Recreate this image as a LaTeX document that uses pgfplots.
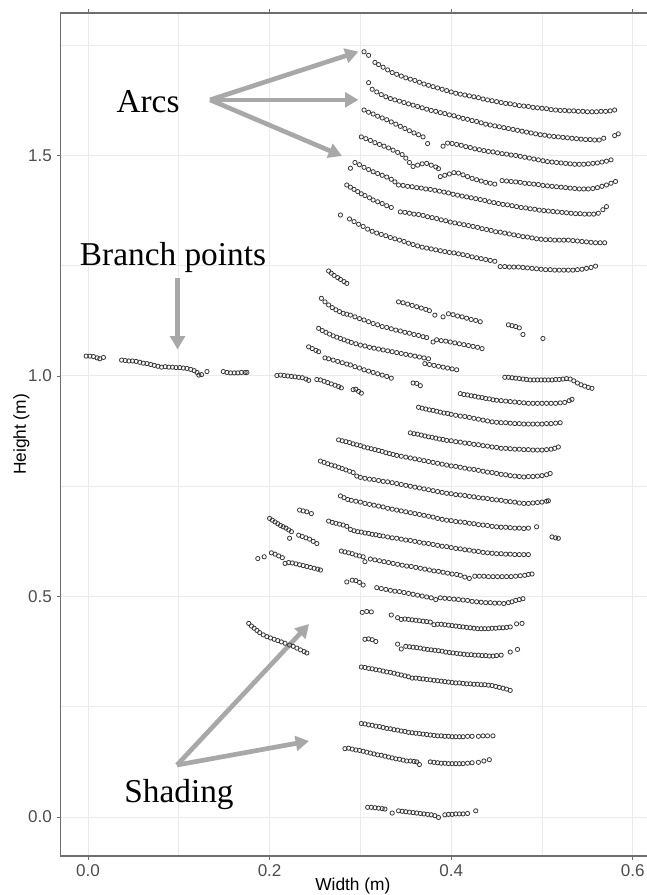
\documentclass[border=0pt]{standalone}
\usepackage{fontspec}
\setmainfont{Liberation Serif}
\setsansfont{Liberation Sans}
\usepackage{pgfplots}
\pgfplotsset{compat=1.18}
\usetikzlibrary{arrows.meta}

\definecolor{gridgray}{HTML}{EBEBEB}
\definecolor{ticktext}{HTML}{4D4D4D}
\definecolor{framegray}{HTML}{6E6E6E}
\definecolor{annot}{HTML}{A8A8A8}

\pgfplotsset{
  pts/.style={only marks, mark=o, mark size=1.6pt,
    mark options={draw=black!78, line width=0.6pt}},
}
\tikzset{
  callout/.style={annot, line width=3.5pt, -{Triangle[length=10pt, width=11pt]}},
}

\begin{document}
\begin{tikzpicture}
\useasboundingbox (-45.45pt,-29.25pt) rectangle (439.05pt,642pt);
\begin{axis}[
  at={(0,0)}, anchor=south west,
  scale only axis, width=441.4pt, height=632.25pt,
  xmin=-0.0302, xmax=0.618, ymin=-0.0884, ymax=1.823,
  clip=false,
  xtick={0,0.2,0.4,0.6}, xticklabels={0.0,0.2,0.4,0.6},
  ytick={0,0.5,1,1.5}, yticklabels={0.0,0.5,1.0,1.5},
  minor xtick={0.1,0.3,0.5}, minor ytick={0.25,0.75,1.25,1.75},
  grid=both,
  major grid style={gridgray, line width=0.75pt},
  minor grid style={gridgray, line width=0.5pt},
  minor tick length=0pt,
  tick align=outside, major tick length=3pt,
  tick style={framegray, line width=0.6pt},
  axis line style={framegray, line width=0.8pt},
  ticklabel style={font=\sffamily\fontsize{12.8}{15}\selectfont, text=ticktext},
  xlabel={Width (m)}, ylabel={Height (m)},
  label style={font=\sffamily\fontsize{13}{15}\selectfont, text=black},
  xlabel style={at={(axis description cs:0.4966,-0.0356)}, anchor=center},
  ylabel style={at={(axis description cs:-0.0664,0.5)}, anchor=center},
]

% upper arcs
\addplot[pts] coordinates {(0.304,1.735) (0.309,1.727) (0.316,1.711) (0.320,1.706) (0.325,1.700) (0.330,1.694) (0.335,1.688) (0.340,1.684) (0.345,1.680) (0.350,1.676) (0.355,1.673) (0.360,1.670) (0.365,1.666) (0.370,1.662) (0.375,1.659) (0.380,1.656) (0.385,1.653) (0.390,1.650) (0.395,1.647) (0.400,1.644) (0.405,1.641) (0.410,1.639) (0.415,1.637) (0.420,1.635) (0.425,1.633) (0.430,1.631) (0.435,1.628) (0.440,1.626) (0.445,1.624) (0.450,1.622) (0.455,1.620) (0.460,1.618) (0.465,1.617) (0.470,1.615) (0.475,1.613) (0.480,1.612) (0.485,1.611) (0.490,1.609) (0.495,1.608) (0.500,1.607) (0.505,1.606) (0.510,1.604) (0.515,1.603) (0.520,1.602) (0.525,1.602) (0.530,1.601) (0.535,1.601) (0.540,1.600) (0.545,1.600) (0.550,1.599) (0.555,1.599) (0.560,1.599) (0.565,1.600) (0.570,1.600) (0.575,1.601) (0.580,1.603)};
\addplot[pts] coordinates {(0.309,1.665) (0.313,1.650) (0.318,1.644) (0.323,1.638) (0.328,1.633) (0.333,1.629) (0.338,1.626) (0.343,1.623) (0.348,1.620) (0.353,1.617) (0.358,1.614) (0.363,1.611) (0.368,1.608) (0.373,1.605) (0.378,1.602) (0.383,1.600) (0.388,1.597) (0.393,1.595) (0.398,1.592) (0.403,1.590) (0.408,1.587) (0.413,1.584) (0.418,1.582) (0.423,1.579) (0.428,1.577) (0.433,1.574) (0.438,1.571) (0.443,1.569) (0.448,1.567) (0.453,1.565) (0.458,1.563) (0.463,1.561) (0.468,1.559) (0.473,1.557) (0.478,1.555) (0.483,1.553) (0.488,1.551) (0.493,1.549) (0.498,1.547) (0.503,1.546) (0.508,1.544) (0.513,1.543) (0.518,1.542) (0.523,1.541) (0.528,1.540) (0.533,1.539) (0.538,1.538) (0.543,1.537) (0.548,1.536) (0.553,1.536) (0.558,1.535) (0.563,1.535) (0.568,1.539) (0.580,1.545) (0.584,1.549)};
\addplot[pts] coordinates {(0.304,1.603) (0.309,1.598) (0.314,1.594) (0.319,1.589) (0.324,1.585) (0.329,1.581) (0.334,1.576) (0.339,1.571) (0.344,1.566) (0.349,1.561) (0.354,1.556) (0.359,1.551) (0.364,1.547) (0.369,1.542) (0.374,1.527)
 (0.391,1.521) (0.396,1.528) (0.401,1.527) (0.406,1.525) (0.411,1.523) (0.416,1.520) (0.421,1.518) (0.426,1.515) (0.431,1.513) (0.436,1.511) (0.441,1.509) (0.446,1.508) (0.451,1.506) (0.456,1.504) (0.461,1.503) (0.466,1.501) (0.471,1.500) (0.476,1.498) (0.481,1.496) (0.486,1.494) (0.491,1.492) (0.496,1.490) (0.501,1.488) (0.506,1.486) (0.511,1.485) (0.516,1.484) (0.521,1.483) (0.526,1.482) (0.531,1.481) (0.536,1.480) (0.541,1.480) (0.546,1.480) (0.551,1.481) (0.556,1.482) (0.561,1.483) (0.566,1.485) (0.571,1.487) (0.576,1.490)};
\addplot[pts] coordinates {(0.301,1.542) (0.306,1.538) (0.311,1.534) (0.316,1.529) (0.321,1.525) (0.326,1.521) (0.331,1.517) (0.336,1.512) (0.341,1.507) (0.346,1.502) (0.350,1.494) (0.354,1.484) (0.358,1.475) (0.363,1.478) (0.368,1.481) (0.373,1.482) (0.378,1.478) (0.383,1.474) (0.386,1.470)
 (0.388,1.452) (0.393,1.455) (0.398,1.458) (0.403,1.461) (0.408,1.460) (0.413,1.456) (0.418,1.452) (0.423,1.448) (0.428,1.445) (0.433,1.442) (0.438,1.439) (0.443,1.437) (0.448,1.435)
 (0.456,1.443) (0.461,1.442) (0.466,1.441) (0.471,1.440) (0.476,1.439) (0.481,1.437) (0.486,1.436) (0.491,1.435) (0.496,1.434) (0.501,1.432) (0.506,1.431) (0.511,1.430) (0.516,1.429) (0.521,1.428) (0.526,1.427) (0.531,1.426) (0.536,1.425) (0.541,1.424) (0.546,1.424) (0.551,1.424) (0.556,1.425) (0.561,1.427) (0.566,1.430) (0.571,1.433) (0.576,1.437) (0.581,1.441)};
\addplot[pts] coordinates {(0.289,1.471) (0.294,1.484) (0.299,1.479) (0.304,1.473) (0.309,1.468) (0.314,1.463) (0.319,1.459) (0.324,1.455) (0.329,1.451) (0.334,1.446) (0.338,1.440) (0.342,1.433) (0.347,1.432) (0.352,1.430) (0.357,1.429) (0.362,1.427) (0.367,1.426) (0.372,1.424) (0.377,1.423) (0.382,1.421) (0.387,1.419) (0.392,1.417) (0.397,1.415) (0.402,1.412) (0.407,1.410) (0.412,1.408) (0.417,1.406) (0.422,1.404) (0.427,1.402) (0.432,1.400) (0.437,1.398) (0.442,1.395) (0.447,1.393) (0.452,1.391) (0.457,1.389) (0.462,1.388) (0.467,1.386) (0.472,1.384) (0.477,1.382) (0.482,1.381) (0.487,1.379) (0.492,1.378) (0.497,1.376) (0.502,1.375) (0.507,1.374) (0.512,1.373) (0.517,1.372) (0.522,1.371) (0.527,1.370) (0.532,1.369) (0.537,1.368) (0.542,1.368) (0.547,1.367) (0.552,1.367) (0.557,1.367) (0.562,1.369) (0.567,1.377) (0.571,1.384)};
\addplot[pts] coordinates {(0.285,1.433) (0.289,1.428) (0.293,1.423) (0.297,1.418) (0.301,1.413) (0.305,1.409) (0.310,1.404) (0.314,1.399) (0.319,1.395) (0.324,1.391) (0.329,1.386) (0.334,1.382) (0.344,1.372) (0.349,1.371) (0.354,1.369) (0.359,1.367) (0.364,1.366) (0.369,1.364) (0.374,1.361) (0.379,1.359) (0.384,1.357) (0.389,1.354) (0.394,1.352) (0.399,1.349) (0.404,1.347) (0.409,1.345) (0.414,1.343) (0.419,1.341) (0.424,1.339) (0.429,1.337) (0.434,1.334) (0.439,1.332) (0.444,1.330) (0.449,1.327) (0.454,1.326) (0.459,1.324) (0.464,1.322) (0.469,1.320) (0.474,1.318) (0.479,1.316) (0.484,1.315) (0.489,1.313) (0.494,1.311) (0.499,1.310) (0.504,1.309) (0.509,1.309) (0.514,1.308) (0.519,1.308) (0.524,1.308) (0.529,1.308) (0.534,1.307) (0.539,1.306) (0.544,1.305) (0.549,1.304) (0.554,1.303) (0.559,1.302) (0.564,1.302) (0.569,1.302)};
\addplot[pts] coordinates {(0.278,1.365) (0.288,1.356) (0.293,1.350) (0.298,1.344) (0.303,1.339) (0.308,1.333) (0.313,1.328) (0.318,1.324) (0.323,1.321) (0.328,1.318) (0.333,1.314) (0.338,1.311) (0.343,1.308) (0.348,1.305) (0.353,1.301) (0.358,1.298) (0.363,1.295) (0.368,1.292) (0.373,1.290) (0.378,1.288) (0.383,1.286) (0.388,1.284) (0.393,1.282) (0.398,1.280) (0.403,1.279) (0.408,1.277) (0.413,1.275) (0.418,1.273) (0.423,1.270) (0.428,1.268) (0.433,1.266) (0.438,1.264) (0.443,1.262) (0.448,1.260) (0.454,1.248) (0.459,1.248) (0.464,1.247) (0.469,1.247) (0.474,1.247) (0.479,1.246) (0.484,1.245) (0.489,1.244) (0.494,1.243) (0.499,1.242) (0.504,1.241) (0.509,1.241) (0.514,1.240) (0.519,1.240) (0.524,1.240) (0.529,1.240) (0.534,1.240) (0.539,1.241) (0.544,1.242) (0.549,1.244) (0.554,1.246) (0.559,1.249)};

% middle section
\addplot[pts] coordinates {(0.265,1.238) (0.268,1.233) (0.271,1.228) (0.275,1.223) (0.278,1.219) (0.282,1.214) (0.285,1.210)};
\addplot[pts] coordinates {(0.257,1.176) (0.261,1.168) (0.265,1.161) (0.269,1.155) (0.273,1.150) (0.277,1.146) (0.281,1.142) (0.285,1.140) (0.289,1.138) (0.294,1.134) (0.299,1.130) (0.304,1.127) (0.309,1.123) (0.314,1.119) (0.319,1.116) (0.324,1.112) (0.329,1.110) (0.334,1.107) (0.339,1.104) (0.344,1.102) (0.349,1.099) (0.354,1.097) (0.359,1.094) (0.364,1.092) (0.369,1.089) (0.373,1.087) (0.380,1.077) (0.384,1.082) (0.389,1.080) (0.394,1.079) (0.399,1.077) (0.404,1.075) (0.409,1.073) (0.414,1.071) (0.419,1.069) (0.424,1.067) (0.429,1.065) (0.434,1.062)};
\addplot[pts] coordinates {(0.342,1.168) (0.347,1.166) (0.352,1.163) (0.357,1.160) (0.362,1.157) (0.367,1.154) (0.372,1.151) (0.376,1.148) (0.382,1.138) (0.391,1.134) (0.397,1.141) (0.402,1.139) (0.407,1.136) (0.412,1.134) (0.417,1.131) (0.422,1.128) (0.427,1.126) (0.432,1.123)
 (0.463,1.116) (0.467,1.114) (0.471,1.112) (0.475,1.109) (0.479,1.094) (0.501,1.085)};
\addplot[pts] coordinates {(0.254,1.108) (0.258,1.103) (0.262,1.099) (0.266,1.095) (0.270,1.091) (0.274,1.088) (0.278,1.085) (0.282,1.082) (0.286,1.079) (0.290,1.076) (0.295,1.073) (0.300,1.070) (0.305,1.068) (0.310,1.065) (0.315,1.063) (0.320,1.061) (0.325,1.059) (0.330,1.057) (0.335,1.055) (0.340,1.053) (0.345,1.051) (0.350,1.049) (0.355,1.047) (0.360,1.045) (0.365,1.043) (0.370,1.041) (0.375,1.039)
 (0.371,1.028) (0.376,1.026) (0.381,1.024) (0.386,1.022) (0.391,1.020) (0.396,1.018) (0.401,1.016) (0.406,1.014)
 (0.243,1.066) (0.247,1.062) (0.251,1.058) (0.254,1.055)};
\addplot[pts] coordinates {(0.261,1.041) (0.265,1.039) (0.270,1.036) (0.275,1.033) (0.280,1.030) (0.285,1.027) (0.289,1.025) (0.294,1.021) (0.299,1.018) (0.304,1.014) (0.309,1.011) (0.314,1.008) (0.319,1.005) (0.324,1.002) (0.329,0.999) (0.334,0.995)};

% branch points
\addplot[pts] coordinates {(-0.002,1.045) (0.002,1.045) (0.006,1.044) (0.010,1.041) (0.013,1.039) (0.017,1.042)
 (0.037,1.036) (0.041,1.035) (0.045,1.034) (0.049,1.034) (0.053,1.033) (0.057,1.031) (0.061,1.029) (0.065,1.028) (0.069,1.026) (0.073,1.024) (0.077,1.022) (0.081,1.020) (0.085,1.021) (0.089,1.020) (0.093,1.020) (0.097,1.019) (0.101,1.019) (0.105,1.018) (0.109,1.017) (0.113,1.015) (0.117,1.012) (0.120,1.008) (0.122,1.002) (0.125,1.003) (0.131,1.010)
 (0.149,1.010) (0.153,1.008) (0.157,1.007) (0.161,1.007) (0.165,1.007) (0.169,1.008) (0.173,1.008) (0.175,1.008)
 (0.208,1.001) (0.212,1.002) (0.216,1.001) (0.220,1.000) (0.224,0.999) (0.228,0.998) (0.232,0.997) (0.236,0.996) (0.240,0.993) (0.243,0.990)
 (0.252,0.992) (0.256,0.991) (0.260,0.988) (0.264,0.985) (0.268,0.982) (0.272,0.979) (0.276,0.976) (0.279,0.973)
 (0.292,0.969) (0.295,0.970) (0.298,0.965) (0.301,0.961)
 (0.358,0.984) (0.362,0.983) (0.366,0.978)};
\addplot[pts] coordinates {(0.459,0.997) (0.463,0.997) (0.467,0.996) (0.471,0.995) (0.475,0.994) (0.479,0.993) (0.483,0.992) (0.487,0.991) (0.491,0.991) (0.495,0.991) (0.499,0.991) (0.503,0.991) (0.507,0.991) (0.511,0.991) (0.515,0.992) (0.519,0.992) (0.523,0.993) (0.527,0.994) (0.531,0.993) (0.535,0.989) (0.539,0.984) (0.543,0.980) (0.547,0.977) (0.551,0.974) (0.555,0.972)};

% lower arcs
\addplot[pts] coordinates {(0.410,0.960) (0.414,0.958) (0.418,0.957) (0.422,0.955) (0.426,0.954) (0.430,0.952) (0.434,0.951) (0.438,0.949) (0.442,0.948) (0.446,0.946) (0.450,0.945) (0.455,0.944) (0.460,0.943) (0.465,0.942) (0.470,0.941) (0.475,0.940) (0.480,0.939) (0.485,0.938) (0.490,0.938) (0.495,0.938) (0.500,0.938) (0.505,0.938) (0.510,0.938) (0.515,0.938) (0.520,0.939) (0.525,0.940) (0.530,0.944) (0.533,0.947)};
\addplot[pts] coordinates {(0.364,0.929) (0.368,0.927) (0.372,0.925) (0.376,0.923) (0.380,0.922) (0.384,0.920) (0.388,0.918) (0.392,0.916) (0.396,0.915) (0.400,0.913) (0.405,0.911) (0.410,0.909) (0.415,0.908) (0.420,0.906) (0.425,0.904) (0.430,0.902) (0.435,0.900) (0.440,0.898) (0.445,0.896) (0.450,0.895) (0.455,0.894) (0.460,0.894) (0.465,0.893) (0.470,0.892) (0.475,0.892) (0.480,0.891) (0.485,0.891) (0.490,0.891) (0.495,0.891) (0.500,0.891) (0.505,0.892) (0.510,0.892) (0.515,0.893) (0.520,0.894)};
\addplot[pts] coordinates {(0.355,0.871) (0.359,0.869) (0.363,0.868) (0.367,0.866) (0.371,0.864) (0.375,0.862) (0.379,0.861) (0.383,0.859) (0.387,0.857) (0.391,0.856) (0.395,0.854) (0.400,0.853) (0.405,0.851) (0.410,0.850) (0.415,0.848) (0.420,0.847) (0.425,0.845) (0.430,0.844) (0.435,0.842) (0.440,0.841) (0.445,0.839) (0.450,0.838) (0.455,0.836) (0.460,0.836) (0.465,0.835) (0.470,0.834) (0.475,0.834) (0.480,0.833) (0.485,0.833) (0.490,0.832) (0.495,0.832) (0.500,0.832) (0.505,0.833) (0.510,0.834) (0.514,0.836) (0.518,0.839)};
\addplot[pts] coordinates {(0.276,0.855) (0.280,0.853) (0.284,0.851) (0.288,0.849) (0.292,0.846) (0.296,0.844) (0.300,0.842) (0.304,0.839) (0.308,0.837) (0.312,0.835) (0.316,0.833) (0.320,0.831) (0.324,0.829) (0.328,0.826) (0.332,0.824) (0.336,0.822) (0.340,0.820) (0.345,0.818) (0.350,0.816) (0.355,0.814) (0.360,0.812) (0.365,0.810) (0.370,0.808) (0.375,0.806) (0.380,0.804) (0.385,0.802) (0.390,0.800) (0.395,0.798) (0.400,0.796) (0.405,0.795) (0.410,0.793) (0.415,0.791) (0.420,0.789) (0.425,0.788) (0.430,0.786) (0.435,0.784) (0.440,0.782) (0.445,0.781) (0.450,0.779) (0.455,0.777) (0.460,0.776) (0.465,0.774) (0.470,0.773) (0.475,0.772) (0.480,0.771) (0.485,0.772) (0.490,0.772) (0.495,0.773) (0.500,0.774) (0.505,0.776) (0.509,0.779)};
\addplot[pts] coordinates {(0.256,0.807) (0.260,0.804) (0.264,0.801) (0.268,0.798) (0.272,0.796) (0.276,0.793) (0.280,0.790) (0.284,0.787) (0.288,0.784) (0.292,0.781) (0.296,0.773) (0.300,0.770) (0.305,0.768) (0.310,0.766) (0.315,0.765) (0.320,0.763) (0.325,0.761) (0.330,0.760) (0.335,0.758) (0.340,0.756) (0.345,0.754) (0.350,0.752) (0.355,0.750) (0.360,0.748) (0.365,0.746) (0.370,0.744) (0.375,0.742) (0.380,0.740) (0.385,0.738) (0.390,0.736) (0.395,0.734) (0.400,0.733) (0.405,0.731) (0.410,0.730) (0.415,0.729) (0.420,0.727) (0.425,0.726) (0.430,0.724) (0.435,0.723) (0.440,0.722) (0.445,0.720) (0.450,0.719) (0.455,0.718) (0.460,0.716) (0.465,0.715) (0.470,0.714) (0.475,0.712) (0.480,0.711) (0.485,0.711) (0.490,0.712) (0.495,0.713) (0.500,0.714) (0.505,0.716) (0.507,0.717)};
\addplot[pts] coordinates {(0.278,0.728) (0.282,0.724) (0.286,0.720) (0.290,0.718) (0.295,0.716) (0.300,0.714) (0.305,0.711) (0.310,0.709) (0.315,0.707) (0.320,0.705) (0.325,0.703) (0.330,0.700) (0.335,0.698) (0.340,0.696) (0.345,0.694) (0.350,0.692) (0.355,0.690) (0.360,0.688) (0.365,0.686) (0.370,0.684) (0.375,0.682) (0.380,0.680) (0.385,0.677) (0.390,0.675) (0.395,0.673) (0.400,0.672) (0.405,0.670) (0.410,0.669) (0.415,0.668) (0.420,0.666) (0.425,0.665) (0.430,0.663) (0.435,0.662) (0.440,0.661) (0.445,0.659) (0.450,0.658) (0.455,0.657) (0.460,0.657) (0.465,0.656) (0.470,0.655) (0.475,0.655) (0.480,0.654) (0.485,0.655) (0.494,0.658)};
\addplot[pts] coordinates {(0.265,0.671) (0.269,0.668) (0.273,0.666) (0.277,0.664) (0.281,0.662) (0.285,0.659) (0.289,0.652) (0.293,0.649) (0.297,0.647) (0.301,0.646) (0.305,0.644) (0.309,0.643) (0.313,0.641) (0.317,0.640) (0.321,0.638) (0.325,0.637) (0.330,0.635) (0.335,0.633) (0.340,0.632) (0.345,0.630) (0.350,0.628) (0.355,0.627) (0.360,0.625) (0.365,0.623) (0.370,0.621) (0.375,0.620) (0.380,0.618) (0.385,0.616) (0.390,0.614) (0.395,0.613) (0.400,0.611) (0.405,0.609) (0.410,0.608) (0.415,0.606) (0.420,0.605) (0.425,0.603) (0.430,0.602) (0.435,0.600) (0.440,0.599) (0.445,0.598) (0.450,0.597) (0.455,0.597) (0.460,0.596) (0.465,0.596) (0.470,0.595) (0.475,0.595) (0.480,0.595) (0.485,0.595)
 (0.511,0.635) (0.515,0.633) (0.518,0.632)};
\addplot[pts] coordinates {(0.233,0.696) (0.237,0.694) (0.241,0.692) (0.246,0.688)
 (0.200,0.677) (0.203,0.673) (0.206,0.669) (0.209,0.665) (0.212,0.661) (0.215,0.658) (0.218,0.655) (0.221,0.651) (0.224,0.647) (0.222,0.632)
 (0.232,0.639) (0.236,0.636) (0.240,0.633) (0.244,0.630) (0.248,0.625) (0.252,0.620)
 (0.202,0.599) (0.206,0.596) (0.210,0.592) (0.214,0.588) (0.217,0.575) (0.221,0.577) (0.225,0.576) (0.229,0.574) (0.233,0.572) (0.237,0.570) (0.241,0.568) (0.245,0.566) (0.249,0.564) (0.253,0.562) (0.256,0.560)
 (0.187,0.586) (0.194,0.590)};
\addplot[pts] coordinates {(0.279,0.603) (0.283,0.601) (0.287,0.599) (0.291,0.597) (0.295,0.594) (0.299,0.592) (0.303,0.590) (0.305,0.579) (0.311,0.585) (0.316,0.583) (0.321,0.581) (0.326,0.579) (0.331,0.577) (0.336,0.575) (0.341,0.573) (0.346,0.571) (0.351,0.569) (0.356,0.568) (0.361,0.566) (0.366,0.564) (0.371,0.562) (0.376,0.560) (0.381,0.558) (0.386,0.557) (0.391,0.555) (0.396,0.553) (0.401,0.551) (0.406,0.550) (0.410,0.548) (0.415,0.544) (0.420,0.541) (0.426,0.546) (0.431,0.546) (0.436,0.546) (0.441,0.545) (0.446,0.545) (0.451,0.545) (0.456,0.545) (0.461,0.545) (0.466,0.545) (0.471,0.546) (0.476,0.547) (0.481,0.548) (0.485,0.550) (0.489,0.551)};
\addplot[pts] coordinates {(0.285,0.533) (0.291,0.537) (0.295,0.536) (0.299,0.532) (0.303,0.526)
 (0.318,0.520) (0.323,0.518) (0.328,0.516) (0.333,0.514) (0.338,0.512) (0.343,0.511) (0.348,0.509) (0.353,0.507) (0.358,0.505) (0.363,0.503) (0.368,0.501) (0.373,0.499) (0.378,0.497) (0.383,0.493) (0.388,0.497) (0.393,0.496) (0.398,0.495) (0.403,0.494) (0.408,0.493) (0.413,0.492) (0.418,0.491) (0.423,0.489) (0.428,0.488) (0.433,0.487) (0.438,0.486) (0.443,0.486) (0.448,0.485) (0.453,0.485) (0.458,0.484) (0.463,0.486) (0.467,0.488) (0.471,0.491) (0.475,0.493) (0.479,0.495)};
\addplot[pts] coordinates {(0.302,0.464) (0.307,0.466) (0.312,0.465) (0.334,0.458) (0.341,0.452) (0.345,0.448) (0.349,0.449) (0.353,0.448) (0.357,0.447) (0.361,0.446) (0.365,0.445) (0.369,0.444) (0.373,0.443) (0.377,0.442) (0.381,0.436) (0.385,0.437) (0.389,0.437) (0.393,0.436) (0.397,0.435) (0.401,0.434) (0.405,0.433) (0.409,0.432) (0.413,0.431) (0.417,0.430) (0.421,0.429) (0.425,0.428) (0.429,0.427) (0.433,0.427) (0.437,0.427) (0.441,0.427) (0.445,0.428) (0.449,0.428) (0.453,0.429) (0.457,0.429) (0.461,0.430) (0.465,0.431) (0.472,0.438) (0.478,0.439)};
\addplot[pts] coordinates {(0.305,0.403) (0.309,0.404) (0.313,0.402) (0.317,0.398) (0.341,0.392) (0.345,0.381) (0.350,0.387) (0.354,0.386) (0.358,0.385) (0.362,0.384) (0.366,0.383) (0.370,0.381) (0.374,0.380) (0.378,0.379) (0.382,0.378) (0.386,0.377) (0.390,0.376) (0.394,0.374) (0.398,0.373) (0.402,0.372) (0.406,0.371) (0.410,0.370) (0.414,0.369) (0.418,0.368) (0.422,0.368) (0.426,0.367) (0.430,0.367) (0.434,0.366) (0.438,0.366) (0.442,0.365) (0.446,0.365) (0.450,0.366) (0.455,0.367) (0.465,0.374) (0.473,0.380)};
\addplot[pts] coordinates {(0.301,0.340) (0.305,0.339) (0.309,0.337) (0.313,0.336) (0.317,0.334) (0.321,0.333) (0.325,0.331) (0.329,0.329) (0.333,0.328) (0.337,0.326) (0.341,0.324) (0.345,0.322) (0.349,0.320) (0.353,0.318) (0.357,0.315) (0.361,0.315) (0.365,0.314) (0.369,0.313) (0.373,0.312) (0.377,0.311) (0.381,0.310) (0.385,0.309) (0.389,0.308) (0.393,0.307) (0.397,0.306) (0.401,0.305) (0.405,0.304) (0.409,0.304) (0.413,0.303) (0.417,0.302) (0.421,0.302) (0.425,0.301) (0.429,0.301) (0.433,0.300) (0.437,0.300) (0.441,0.299) (0.445,0.298) (0.449,0.296) (0.453,0.294) (0.457,0.292) (0.461,0.290) (0.465,0.287)};
\addplot[pts] coordinates {(0.177,0.439) (0.180,0.433) (0.183,0.428) (0.186,0.423) (0.189,0.418) (0.193,0.413) (0.197,0.409) (0.201,0.406) (0.205,0.403) (0.209,0.400) (0.213,0.397) (0.217,0.394) (0.222,0.390) (0.226,0.387) (0.230,0.383) (0.234,0.379) (0.238,0.375) (0.241,0.372)};

% bottom arcs
\addplot[pts] coordinates {(0.301,0.212) (0.305,0.211) (0.309,0.209) (0.313,0.208) (0.317,0.206) (0.321,0.205) (0.325,0.203) (0.329,0.201) (0.333,0.200) (0.337,0.198) (0.341,0.197) (0.345,0.195) (0.349,0.194) (0.353,0.192) (0.357,0.191) (0.361,0.190) (0.365,0.189) (0.369,0.188) (0.373,0.187) (0.377,0.186) (0.381,0.185) (0.385,0.184) (0.389,0.184) (0.393,0.183) (0.397,0.183) (0.401,0.182) (0.405,0.182) (0.409,0.182) (0.413,0.182) (0.418,0.183) (0.423,0.183) (0.430,0.183) (0.435,0.184) (0.440,0.184) (0.446,0.184)};
\addplot[pts] coordinates {(0.283,0.155) (0.287,0.156) (0.291,0.154) (0.295,0.152) (0.299,0.151) (0.303,0.149) (0.307,0.147) (0.311,0.145) (0.315,0.143) (0.319,0.141) (0.323,0.140) (0.327,0.138) (0.331,0.136) (0.335,0.134) (0.339,0.132) (0.343,0.131) (0.347,0.129) (0.351,0.127) (0.355,0.127) (0.359,0.126) (0.362,0.125) (0.365,0.119) (0.377,0.125) (0.381,0.124) (0.385,0.123) (0.389,0.122) (0.393,0.122) (0.397,0.121) (0.401,0.121) (0.405,0.121) (0.409,0.121) (0.413,0.121) (0.418,0.122) (0.423,0.123) (0.430,0.124) (0.436,0.127) (0.442,0.130)};
\addplot[pts] coordinates {(0.308,0.022) (0.312,0.022) (0.316,0.021) (0.320,0.020) (0.324,0.019) (0.327,0.018) (0.335,0.009) (0.342,0.014) (0.346,0.013) (0.350,0.012) (0.354,0.011) (0.358,0.010) (0.362,0.009) (0.366,0.008) (0.370,0.007) (0.374,0.006) (0.378,0.005) (0.382,0.003) (0.386,-0.001) (0.393,0.005) (0.397,0.006) (0.401,0.006) (0.405,0.007) (0.409,0.007) (0.413,0.007) (0.418,0.008) (0.427,0.014)};

% annotations
\node[font=\fontsize{25}{30}\selectfont, anchor=base] at (axis cs:0.0661,1.597) {Arcs};
\draw[callout] (axis cs:0.1344,1.626) -- (axis cs:0.2979,1.7354);
\draw[callout] (axis cs:0.1344,1.626) -- (axis cs:0.2979,1.626);
\draw[callout] (axis cs:0.1344,1.626) -- (axis cs:0.2797,1.4989);
\node[font=\fontsize{25}{30}\selectfont, anchor=base] at (axis cs:0.0936,1.2494) {Branch points};
\draw[callout] (axis cs:0.0986,1.2222) -- (axis cs:0.0986,1.0601);
\node[font=\fontsize{25}{30}\selectfont, anchor=base] at (axis cs:0.1002,0.034) {Shading};
\draw[callout] (axis cs:0.098,0.1179) -- (axis cs:0.2434,0.4376);
\draw[callout] (axis cs:0.098,0.1179) -- (axis cs:0.2434,0.1723);
\end{axis}
\end{tikzpicture}
\end{document}
